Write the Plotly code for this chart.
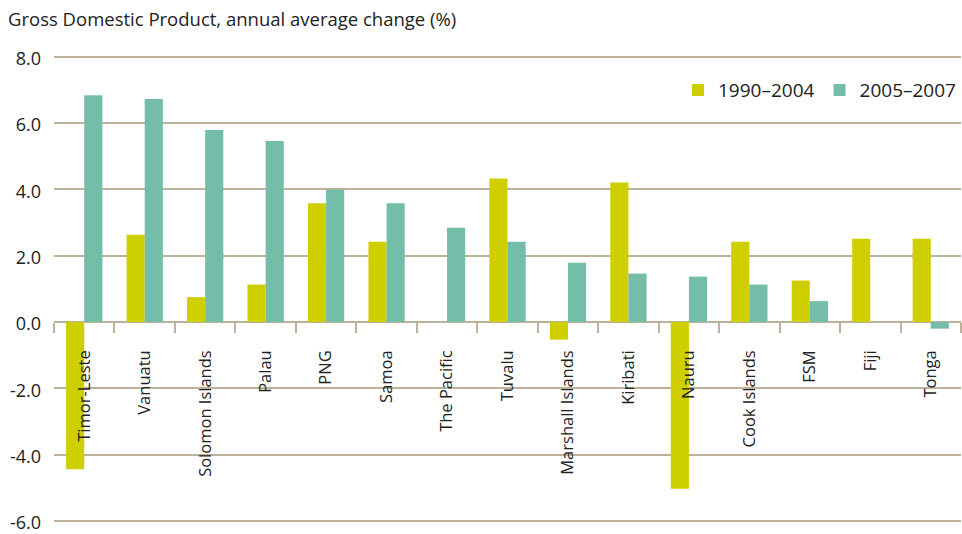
import plotly.graph_objects as go

categories = ["Timor-Leste", "Vanuatu", "Solomon Islands", "Palau", "PNG", "Samoa",
              "The Pacific", "Tuvalu", "Marshall Islands", "Kiribati", "Nauru",
              "Cook Islands", "FSM", "Fiji", "Tonga"]
gdp_1990_2004 = [-4.44, 2.63, 0.75, 1.13, 3.58, 2.42, None, 4.33, -0.53, 4.21, -5.03,
                 2.42, 1.25, 2.51, 2.51]
gdp_2005_2007 = [6.84, 6.72, 5.79, 5.46, 3.99, 3.58, 2.84, 2.42, 1.79, 1.46, 1.37,
                 1.13, 0.63, None, -0.2]
y_ticks = [-6, -4, -2, 0, 2, 4, 6, 8]
y_tick_labels = ["-6.0", "-4.0", "-2.0", "0.0", "2.0", "4.0", "6.0", "8.0"]

YELLOW = "#CFCF00"
TEAL = "#74BEA9"
GRID = "#BCB29B"
TEXT = "#222222"
FONT = "Open Sans"

ymin, ymax = -6.3, 8.05

fig = go.Figure()
fig.add_trace(go.Bar(x=categories, y=gdp_1990_2004, name="1990\u20132004",
                     marker=dict(color=YELLOW, line=dict(width=0))))
fig.add_trace(go.Bar(x=categories, y=gdp_2005_2007, name="2005\u20132007",
                     marker=dict(color=TEAL, line=dict(width=0))))

fig.update_layout(
    width=962, height=534,
    margin=dict(l=54, r=1, t=55, b=3),
    paper_bgcolor="white", plot_bgcolor="white",
    barmode="group", bargap=0.4, bargroupgap=0,
    font=dict(family=FONT, size=16, color=TEXT),
    title=dict(text="Gross Domestic Product, annual average change (%)",
               x=8 / 962, xref="container", xanchor="left",
               y=1 - 20 / 534, yref="container", yanchor="middle",
               font=dict(family=FONT, size=18.5, color=TEXT)),
    legend=dict(orientation="h", x=1.0, xanchor="right", y=0.926, yanchor="middle",
                font=dict(family=FONT, size=19, color=TEXT), bgcolor="rgba(0,0,0,0)",
                itemwidth=30, traceorder="normal"),
    xaxis=dict(anchor="free", position=(0 - ymin) / (ymax - ymin),
               tickson="boundaries", ticks="outside", ticklen=10, tickwidth=1.5,
               tickcolor=GRID, showline=False, showgrid=False, tickangle=-90,
               ticklabelstandoff=24, automargin=False,
               tickfont=dict(family=FONT, size=16.5, color=TEXT)),
    yaxis=dict(range=[ymin, ymax], tickvals=y_ticks, ticktext=y_tick_labels,
               showgrid=True, gridcolor=GRID, gridwidth=1.5,
               zeroline=True, zerolinecolor=GRID, zerolinewidth=1.5,
               showline=False, ticks="", ticklabelstandoff=12, automargin=False,
               ticklabeloverflow="allow", ticklabelshift=2,
               tickfont=dict(family=FONT, size=18, color=TEXT)),
)

fig.write_html("out.html", config={"displayModeBar": False},
               post_script="document.body.style.margin='0';document.body.style.overflow='hidden';")
